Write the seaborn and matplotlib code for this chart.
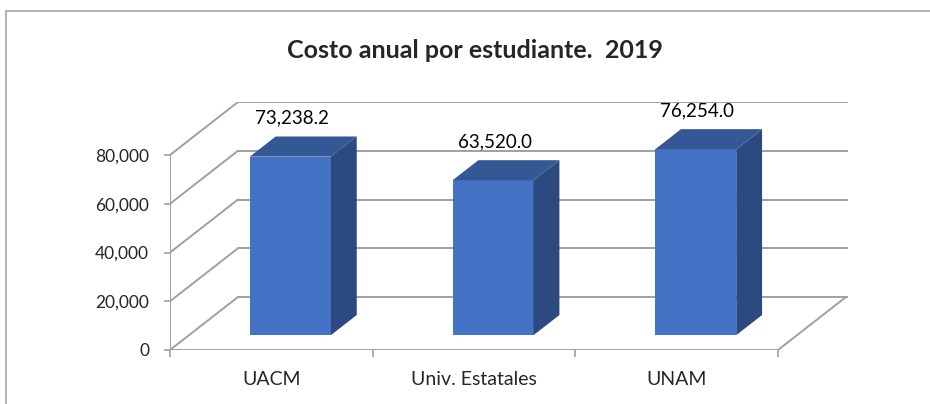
import matplotlib
matplotlib.use("Agg")
import matplotlib.pyplot as plt
import seaborn as sns
from matplotlib.patches import Polygon, Rectangle

# data
categories = ["UACM", "Univ. Estatales", "UNAM"]
costs = [73238.2, 63520.0, 76254.0]
y_ticks = [0, 20000, 40000, 60000, 80000]
title = "Costo anual por estudiante.  2019"

FRONT = "#4472C4"
SIDE = "#2C4A80"
TOP = "#335895"
GRID = "#A0A0A0"

sns.set_theme(style="white")
plt.rcParams["font.family"] = ["Lato", "DejaVu Sans"]

W, H = 930, 404
fig = plt.figure(figsize=(W / 100, H / 100), dpi=100)

# pixel frame of the fake-3d plot area
x_front0, x_front1, x_back1 = 170, 778, 848
y_zero, y_top_tick, y_back_top = 350, 155, 102
px_cat = (x_front1 - x_front0) / len(categories)
px_val = (y_zero - y_top_tick) / y_ticks[-1]

ax = fig.add_axes([x_front0 / W, (H - y_zero) / H,
                   (x_back1 - x_front0) / W, (y_zero - y_back_top) / H])
xmin = -0.5
xmax = xmin + (x_back1 - x_front0) / px_cat
ymax = (y_zero - y_back_top) / px_val
DX = 68 / px_cat          # full depth, in data units
DY = 53 / px_val
f_front, f_depth = 0.28, 0.38

# walls and floor
for t in y_ticks:
    ax.plot([xmin + DX, xmax], [t + DY, t + DY], color=GRID, lw=1.4, zorder=1)
    ax.plot([xmin, xmin + DX], [t, t + DY], color=GRID, lw=1.4, zorder=1)
ax.plot([xmin, xmin], [0, y_ticks[-1]], color=GRID, lw=1.4, zorder=1)
ax.plot([xmin, len(categories) - 0.5], [0, 0], color=GRID, lw=1.4, zorder=1)
ax.plot([len(categories) - 0.5, len(categories) - 0.5 + DX], [0, DY],
        color=GRID, lw=1.4, zorder=1)

sns.barplot(x=categories, y=costs, color=FRONT, saturation=1, width=0.4,
            ax=ax, zorder=3, linewidth=0)

for p, v in zip(ax.patches, costs):
    p.set_x(p.get_x() + f_front * DX)
    p.set_y(f_front * DY)
    x0, y0 = p.get_x(), p.get_y()
    x1, y1 = x0 + p.get_width(), y0 + p.get_height()
    ddx, ddy = f_depth * DX, f_depth * DY
    ax.add_patch(Polygon([(x1, y0), (x1 + ddx, y0 + ddy), (x1 + ddx, y1 + ddy), (x1, y1)],
                         closed=True, facecolor=SIDE, edgecolor="none", zorder=3))
    ax.add_patch(Polygon([(x0, y1), (x0 + ddx, y1 + ddy), (x1 + ddx, y1 + ddy), (x1, y1)],
                         closed=True, facecolor=TOP, edgecolor="none", zorder=3))
    ax.annotate(f"{v:,.1f}", ((x0 + x1) / 2 + 0.008, y1 + ddy), xytext=(0, 7),
                textcoords="offset points", ha="center", va="bottom",
                fontsize=13.5, color="black")

ax.set_xlim(xmin, xmax)
ax.set_ylim(0, ymax)
ax.set_yticks(y_ticks)
ax.set_yticklabels([f"{t:,}" for t in y_ticks], fontsize=12.5)
ax.set_xticks(range(len(categories)))
ax.set_xticklabels(categories, fontsize=14)
ax.set_xticks([i - 0.5 for i in range(len(categories) + 1)], minor=True)
ax.tick_params(axis="x", which="major", length=0, pad=15)
ax.tick_params(axis="x", which="minor", length=5, color=GRID, width=1.2, bottom=True)
ax.tick_params(axis="y", length=4, color=GRID, width=1.2, left=True, pad=11)
ax.set_xlabel("")
for s in ax.spines.values():
    s.set_visible(False)
ax.patch.set_alpha(0)

fig.text(0.511, (H - 51) / H, title, ha="center", va="center",
         fontsize=18, fontweight="bold")

# chart border
fig.add_artist(Rectangle((6 / W, -0.1), 1.2, (H - 11) / H + 0.1,
                         transform=fig.transFigure, fill=False,
                         edgecolor="#A6A6A6", lw=1.2))

fig.savefig("out.png", dpi=100)
